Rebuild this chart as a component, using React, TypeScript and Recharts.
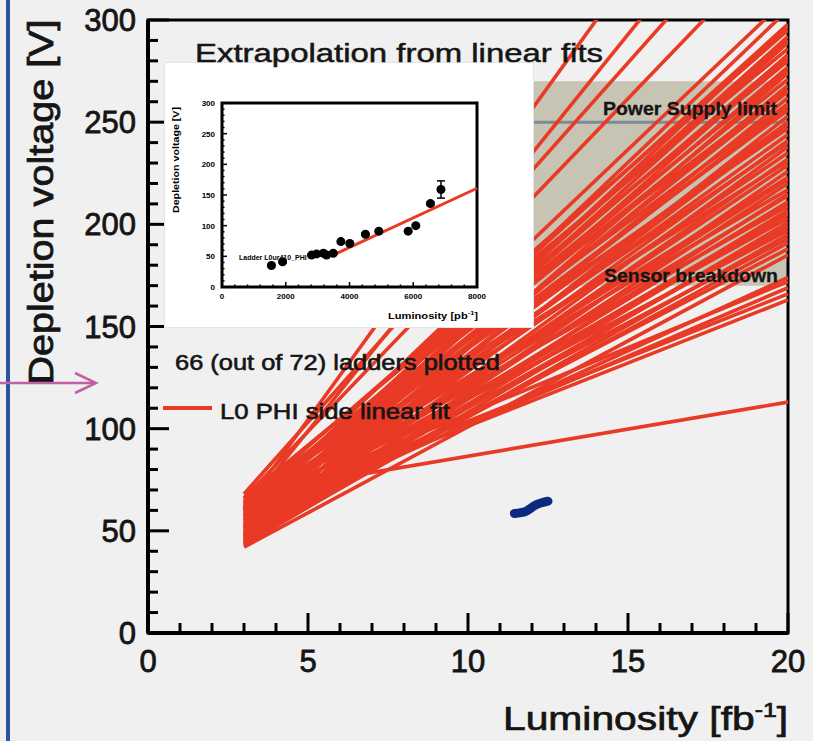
import {
  ComposedChart,
  LineChart,
  Line,
  XAxis,
  YAxis,
  ReferenceArea,
  ReferenceLine,
  Scatter,
  ErrorBar,
} from 'recharts'

const FONT = '"Liberation Sans", Arial, sans-serif'
const RED = '#e93a25'
const INK = '#151515'

// main plot: linear fits per ladder, drawn from 3 to 20 fb^-1
const fitRange = [3, 20]
const fitStartV = [
  68, 42, 58, 60, 55, 62, 52, 50, 46, 53, 44, 57, 48, 43, 56, 47, 51, 45, 59, 49, 54, 44, 61,
  46, 52, 57, 43, 50, 63, 47, 55, 45, 60, 49, 53, 64, 48, 56, 44, 58, 51, 62, 46, 54, 65, 49,
  57, 45, 60, 52, 63, 47, 55, 66, 50, 59, 53, 64, 48, 57, 51, 58, 66, 68, 60, 61,
]
const fitEndV = [
  113, 185, 163, 166, 169, 172, 174, 188, 191, 193, 195, 197, 199, 201, 203, 205, 206, 207, 209,
  211, 214, 215, 217, 220, 222, 223, 226, 229, 231, 232, 235, 238, 240, 241, 244, 247, 249, 250,
  253, 256, 258, 259, 262, 265, 266, 268, 271, 274, 275, 277, 280, 282, 283, 286, 289, 290, 292,
  295, 297, 298, 305, 311, 343, 367, 390, 430,
]

// stray blue mark near (12, 60)
const blobLumi = [11.45, 11.8, 12.1, 12.5]
const blobV = [58.5, 59.5, 62.5, 64.5]

// shaded region: power supply limit / sensor breakdown
const bandLumi = [12, 20]
const bandV = [170, 270]
const supplyLimitV = 250

const xTicks = [0, 1, 2, 3, 4, 5, 6, 7, 8, 9, 10, 11, 12, 13, 14, 15, 16, 17, 18, 19, 20]
const yTicks = [
  0, 10, 20, 30, 40, 50, 60, 70, 80, 90, 100, 110, 120, 130, 140, 150, 160, 170, 180, 190, 200,
  210, 220, 230, 240, 250, 260, 270, 280, 290, 300,
]

// inset: one ladder, depletion voltage vs luminosity [pb^-1]
const insetLumi = [1550, 1900, 2810, 2970, 3180, 3280, 3490, 3730, 4010, 4500, 4920, 5840, 6080, 6540, 6870]
const insetVdep = [35, 41, 52, 54, 55, 52, 55, 74, 71, 86, 91, 91, 100, 136, 159]
const insetErr = [2, 2, 2, 2, 2, 2, 2, 2, 2, 2, 2, 2, 2, 3, 14]
const insetFitLumi = [3600, 8000]
const insetFitV = [55, 161]
const insetXTicks = [
  0, 400, 800, 1200, 1600, 2000, 2400, 2800, 3200, 3600, 4000, 4400, 4800, 5200, 5600, 6000,
  6400, 6800, 7200, 7600, 8000,
]
const insetYTicks = [
  0, 10, 20, 30, 40, 50, 60, 70, 80, 90, 100, 110, 120, 130, 140, 150, 160, 170, 180, 190, 200,
  210, 220, 230, 240, 250, 260, 270, 280, 290, 300,
]

const fits = fitStartV.map((s, i) => [
  { lum: fitRange[0], v: s },
  { lum: fitRange[1], v: fitEndV[i] },
])
const blob = blobLumi.map((l, i) => ({ lum: l, v: blobV[i] }))
const insetPoints = insetLumi.map((l, i) => ({ lum: l, v: insetVdep[i], err: insetErr[i] }))
const insetFit = insetFitLumi.map((l, i) => ({ lum: l, v: insetFitV[i] }))

function MainXTick({ x, y, payload }: any) {
  const major = payload.value % 5 === 0
  return (
    <g>
      <line x1={x} y1={y} x2={x} y2={y - (major ? 20 : 10)} stroke="#000" strokeWidth={3} />
      {major && (
        <text x={x} y={y + 39} textAnchor="middle" fontSize={31} fontFamily={FONT} fill={INK} stroke={INK} strokeWidth={0.8}>
          {payload.value}
        </text>
      )}
    </g>
  )
}

function MainYTick({ x, y, payload }: any) {
  const major = payload.value % 50 === 0
  return (
    <g>
      <line x1={x} y1={y} x2={x + (major ? 21 : 10)} y2={y} stroke="#000" strokeWidth={3} />
      {major && (
        <text x={x - 12} y={y + 11} textAnchor="end" fontSize={31} fontFamily={FONT} fill={INK} stroke={INK} strokeWidth={0.8}>
          {payload.value}
        </text>
      )}
    </g>
  )
}

function InsetXTick({ x, y, payload }: any) {
  const major = payload.value % 2000 === 0
  return (
    <g>
      <line x1={x} y1={y} x2={x} y2={y - (major ? 5 : 2.5)} stroke="#000" strokeWidth={1.5} />
      {major && (
        <text x={x} y={y + 12} textAnchor="middle" fontSize={8} fontWeight="bold" fontFamily={FONT} fill="#000">
          {payload.value}
        </text>
      )}
    </g>
  )
}

function InsetYTick({ x, y, payload }: any) {
  const major = payload.value % 50 === 0
  return (
    <g>
      <line x1={x} y1={y} x2={x + (major ? 5 : 2.5)} y2={y} stroke="#000" strokeWidth={1.5} />
      {major && (
        <text x={x - 7} y={y + 3} textAnchor="end" fontSize={8} fontWeight="bold" fontFamily={FONT} fill="#000">
          {payload.value}
        </text>
      )}
    </g>
  )
}

function InsetDot(p: any) {
  return <circle cx={p.cx} cy={p.cy} r={4.5} fill="#000" />
}

function Inset() {
  return (
    <div
      style={{
        position: 'absolute',
        left: 165,
        top: 63,
        width: 368,
        height: 264,
        background: '#fff',
        boxShadow: '0 0 0 1px #e4e4e4',
      }}
    >
      <svg width={368} height={264} style={{ position: 'absolute', left: 0, top: 0 }}>
        <text x={74} y={197} fontSize={7} fontWeight="bold" fontFamily={FONT} fill="#000">
          Ladder L0ur410_PHI
        </text>
      </svg>
      <div style={{ position: 'absolute', left: 0, top: 0 }}>
        <ComposedChart width={368} height={264} margin={{ top: 40, right: 56, bottom: 16, left: 17 }}>
          <XAxis
            type="number"
            dataKey="lum"
            domain={[0, 8000]}
            ticks={insetXTicks}
            interval={0}
            tickSize={0}
            tickMargin={0}
            tickLine={false}
            axisLine={false}
            tick={(p: any) => <InsetXTick {...p} />}
            height={24}
          />
          <YAxis
            type="number"
            dataKey="v"
            domain={[0, 300]}
            allowDataOverflow
            ticks={insetYTicks}
            interval={0}
            tickSize={0}
            tickMargin={0}
            tickLine={false}
            axisLine={false}
            tick={(p: any) => <InsetYTick {...p} />}
            width={40}
          />
          <Line data={insetFit} dataKey="v" stroke={RED} strokeWidth={3} dot={false} isAnimationActive={false} />
          <Scatter data={insetPoints} dataKey="v" fill="#000" shape={InsetDot} isAnimationActive={false}>
            <ErrorBar dataKey="err" direction="y" width={4} stroke="#000" strokeWidth={1.5} />
          </Scatter>
          <ReferenceArea x1={0} x2={8000} y1={0} y2={300} fill="none" stroke="#000" strokeWidth={3} ifOverflow="visible" />
        </ComposedChart>
      </div>
      <svg width={368} height={264} style={{ position: 'absolute', left: 0, top: 0, pointerEvents: 'none' }}>
        <text
          transform="translate(14 97) rotate(-90)"
          textAnchor="middle"
          fontSize={9}
          fontWeight="bold"
          fontFamily={FONT}
          textLength={106}
          lengthAdjust="spacingAndGlyphs"
        >
          Depletion voltage [V]
        </text>
        <text
          x={313}
          y={256}
          textAnchor="end"
          fontSize={9}
          fontWeight="bold"
          fontFamily={FONT}
          textLength={90}
          lengthAdjust="spacingAndGlyphs"
        >
          Luminosity [pb<tspan dy={-4} fontSize={6}>-1</tspan>
          <tspan dy={4} fontSize={9}>]</tspan>
        </text>
      </svg>
    </div>
  )
}

export default function App() {
  return (
    <div style={{ position: 'absolute', left: 0, top: 0, width: 813, height: 741, background: '#f0f0f0', overflow: 'hidden' }}>
      <LineChart width={813} height={741} margin={{ top: 20, right: 25, bottom: 78, left: 48 }}>
        <XAxis
          type="number"
          dataKey="lum"
          domain={[0, 20]}
          allowDataOverflow
          ticks={xTicks}
          interval={0}
          tickSize={0}
          tickMargin={0}
          tickLine={false}
          axisLine={{ stroke: '#000', strokeWidth: 4 }}
          tick={(p: any) => <MainXTick {...p} />}
          height={30}
        />
        <YAxis
          type="number"
          domain={[0, 300]}
          allowDataOverflow
          ticks={yTicks}
          interval={0}
          tickSize={0}
          tickMargin={0}
          tickLine={false}
          axisLine={{ stroke: '#000', strokeWidth: 4 }}
          tick={(p: any) => <MainYTick {...p} />}
          width={100}
        />
        <ReferenceArea
          x1={bandLumi[0]}
          x2={bandLumi[1]}
          y1={bandV[0]}
          y2={bandV[1]}
          fill="#c8c4b3"
          fillOpacity={1}
          stroke="none"
        />
        <ReferenceLine
          segment={[
            { x: bandLumi[0], y: supplyLimitV },
            { x: bandLumi[1], y: supplyLimitV },
          ]}
          stroke="#7b8b97"
          strokeWidth={3}
        />
        {fits.map((d, i) => (
          <Line
            key={i}
            data={d}
            dataKey="v"
            stroke={RED}
            strokeWidth={3.6}
            dot={false}
            activeDot={false}
            isAnimationActive={false}
          />
        ))}
        <Line
          data={blob}
          dataKey="v"
          type="monotone"
          stroke="#0b2a80"
          strokeWidth={9}
          strokeLinecap="round"
          strokeLinejoin="round"
          dot={false}
          isAnimationActive={false}
        />
        <ReferenceArea x1={0} x2={20} y1={0} y2={300} fill="none" stroke="#000" strokeWidth={3} ifOverflow="visible" />
      </LineChart>

      <Inset />

      <svg width={813} height={741} style={{ position: 'absolute', left: 0, top: 0, pointerEvents: 'none' }} fontFamily={FONT}>
        <rect x={6} y={0} width={4} height={741} fill="#2c52a0" />
        <line x1={0} y1={383} x2={95} y2={383} stroke="#c35fa5" strokeWidth={2.5} />
        <polyline points="75,373 96,383 75,393" fill="none" stroke="#c35fa5" strokeWidth={2.5} />

        <g fill={INK} stroke={INK}>
          <text x={195} y={62} fontSize={26} strokeWidth={0.5} textLength={408} lengthAdjust="spacingAndGlyphs">
            Extrapolation from linear fits
          </text>
          <text x={603} y={115} fontSize={18} fontWeight="bold" strokeWidth={0.3} textLength={174} lengthAdjust="spacingAndGlyphs">
            Power Supply limit
          </text>
          <text x={604} y={282} fontSize={18} fontWeight="bold" strokeWidth={0.3} textLength={174} lengthAdjust="spacingAndGlyphs">
            Sensor breakdown
          </text>
          <text x={175} y={370} fontSize={22} strokeWidth={0.6} textLength={325} lengthAdjust="spacingAndGlyphs">
            66 (out of 72) ladders plotted
          </text>
          <text x={220} y={419} fontSize={22} strokeWidth={0.6} textLength={230} lengthAdjust="spacingAndGlyphs">
            L0 PHI side linear fit
          </text>
          <text
            transform="translate(53 202) rotate(-90)"
            textAnchor="middle"
            fontSize={35}
            strokeWidth={0.8}
            textLength={365}
            lengthAdjust="spacingAndGlyphs"
          >
            Depletion voltage [V]
          </text>
          <text x={788} y={730} textAnchor="end" fontSize={33} strokeWidth={0.7} textLength={285} lengthAdjust="spacingAndGlyphs">
            Luminosity [fb<tspan dy={-13} fontSize={20}>-1</tspan>
            <tspan dy={13} fontSize={33}>]</tspan>
          </text>
        </g>
        <line x1={163} y1={408} x2={212} y2={408} stroke={RED} strokeWidth={4} />
      </svg>
    </div>
  )
}
